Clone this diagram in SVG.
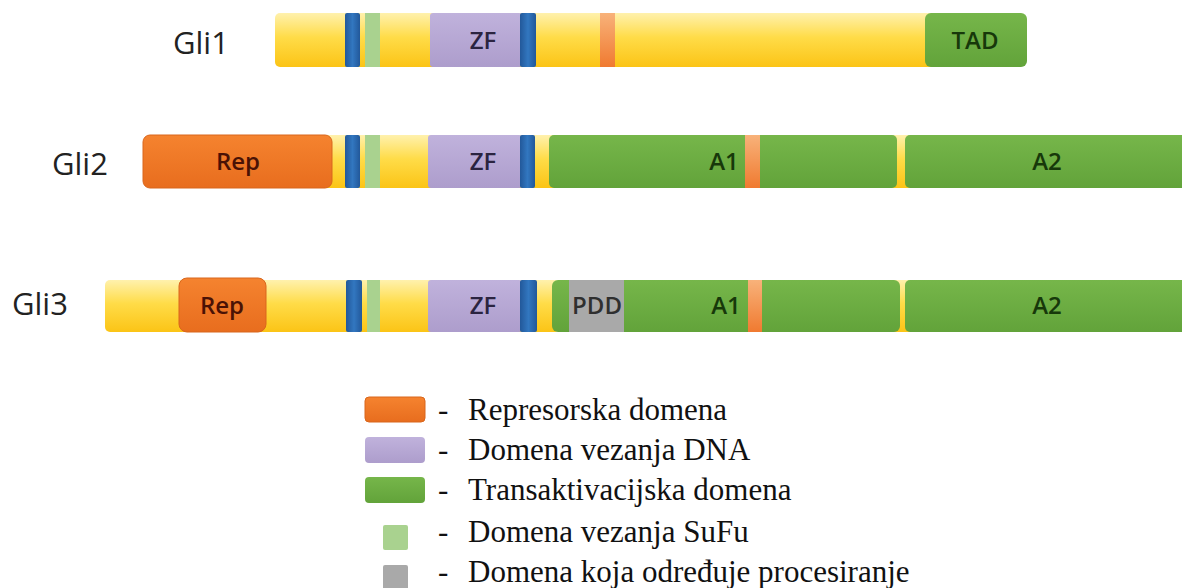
<svg xmlns="http://www.w3.org/2000/svg" width="1182" height="588" viewBox="0 0 1182 588">
<defs>
<linearGradient id="gY" x1="0" y1="0" x2="0" y2="1"><stop offset="0" stop-color="#fff1ad"/><stop offset="0.45" stop-color="#ffdc48"/><stop offset="1" stop-color="#fbc416"/></linearGradient>
<linearGradient id="gO" x1="0" y1="0" x2="0" y2="1"><stop offset="0" stop-color="#f5832f"/><stop offset="1" stop-color="#e86d1e"/></linearGradient>
<linearGradient id="gP" x1="0" y1="0" x2="0" y2="1"><stop offset="0" stop-color="#c0b2dc"/><stop offset="1" stop-color="#ad9dcc"/></linearGradient>
<linearGradient id="gG" x1="0" y1="0" x2="0" y2="1"><stop offset="0" stop-color="#76b64a"/><stop offset="1" stop-color="#62a33a"/></linearGradient>
<linearGradient id="gB" x1="0" y1="0" x2="1" y2="0"><stop offset="0" stop-color="#22589a"/><stop offset="0.5" stop-color="#3277c0"/><stop offset="1" stop-color="#22589a"/></linearGradient>
<linearGradient id="gS" x1="0" y1="0" x2="0" y2="1"><stop offset="0" stop-color="#f8b27a"/><stop offset="1" stop-color="#f07a30"/></linearGradient>
</defs>
<style>
.y{fill:url(#gY)}
.o{fill:url(#gO);stroke:#d9661c;stroke-width:1}
.p{fill:url(#gP)}
.g{fill:url(#gG)}
.b{fill:url(#gB)}
.lg{fill:#a9d28f}
.s{fill:url(#gS)}
.gr{fill:#a9a9a9}
.name{font-family:"Open Sans","Liberation Sans",sans-serif;font-size:31px;fill:#222}
.lbl{font-family:"Open Sans","Liberation Sans",sans-serif;font-size:24px;font-weight:600;text-anchor:middle}
.leg{font-family:"Liberation Serif","Times New Roman",serif;font-size:31px;fill:#111}
</style>
<rect width="1182" height="588" fill="#ffffff"/>

<g id="gli1">
<text class="name" x="173" y="54">Gli1</text>
<rect class="y" x="275" y="13" width="665" height="54" rx="5"/>
<rect class="b" x="345" y="13" width="15" height="54" rx="2"/>
<rect class="lg" x="365" y="13" width="15" height="54"/>
<rect class="p" x="430" y="13" width="92" height="54" rx="3"/>
<rect class="b" x="520" y="13" width="16" height="54" rx="2"/>
<rect class="s" x="600" y="13" width="15" height="54"/>
<rect class="g" x="925" y="13" width="102" height="54" rx="6"/>
<text class="lbl" x="483" y="49" fill="#2b2440">ZF</text>
<text class="lbl" x="975" y="49" fill="#17380a">TAD</text>
</g>

<g id="gli2">
<text class="name" x="52" y="175">Gli2</text>
<rect class="y" x="326" y="135" width="230" height="53"/>
<rect class="o" x="143" y="135" width="189" height="53" rx="7"/>
<rect class="b" x="345" y="135" width="15" height="53" rx="2"/>
<rect class="lg" x="365" y="135" width="15" height="53"/>
<rect class="p" x="428" y="135" width="94" height="53" rx="3"/>
<rect class="b" x="520" y="135" width="15" height="53" rx="2"/>
<rect class="y" x="890" y="135" width="20" height="53"/>
<rect class="g" x="549" y="135" width="348" height="53" rx="5"/>
<rect class="s" x="745" y="135" width="15" height="53"/>
<rect class="g" x="905" y="135" width="290" height="53" rx="5"/>
<text class="lbl" x="238" y="170" fill="#4a1205">Rep</text>
<text class="lbl" x="483" y="170" fill="#2b2440">ZF</text>
<text class="lbl" x="724" y="170" fill="#17380a">A1</text>
<text class="lbl" x="1047" y="170" fill="#17380a">A2</text>
</g>

<g id="gli3">
<text class="name" x="12" y="315">Gli3</text>
<rect class="y" x="105" y="280" width="455" height="52" rx="5"/>
<rect class="o" x="179" y="278" width="87" height="54" rx="8"/>
<rect class="b" x="346" y="280" width="16" height="52" rx="2"/>
<rect class="lg" x="367" y="280" width="13" height="52"/>
<rect class="p" x="428" y="280" width="94" height="52" rx="3"/>
<rect class="b" x="520" y="280" width="17" height="52" rx="2"/>
<rect class="y" x="893" y="280" width="18" height="52"/>
<rect class="g" x="552" y="280" width="348" height="52" rx="6"/>
<rect class="gr" x="569" y="280" width="55" height="52"/>
<rect class="s" x="748" y="280" width="14" height="52"/>
<rect class="g" x="905" y="280" width="290" height="52" rx="5"/>
<text class="lbl" x="222" y="314" fill="#4a1205">Rep</text>
<text class="lbl" x="483" y="314" fill="#2b2440">ZF</text>
<text class="lbl" x="597" y="314" fill="#2f2f2f" font-size="20">PDD</text>
<text class="lbl" x="726" y="314" fill="#17380a">A1</text>
<text class="lbl" x="1047" y="314" fill="#17380a">A2</text>
</g>

<g id="legend">
<rect class="o" x="365" y="397" width="60" height="25" rx="4"/>
<text class="leg" x="438" y="420">-</text>
<text class="leg" x="468" y="420">Represorska domena</text>
<rect class="p" x="365" y="437" width="60" height="26" rx="4"/>
<text class="leg" x="438" y="460">-</text>
<text class="leg" x="468" y="460">Domena vezanja DNA</text>
<rect class="g" x="365" y="477" width="60" height="26" rx="4"/>
<text class="leg" x="438" y="500">-</text>
<text class="leg" x="468" y="500">Transaktivacijska domena</text>
<rect class="lg" x="383" y="525" width="25" height="25" rx="2"/>
<text class="leg" x="438" y="542">-</text>
<text class="leg" x="468" y="542">Domena vezanja SuFu</text>
<rect class="gr" x="383" y="565" width="25" height="25" rx="2"/>
<text class="leg" x="438" y="582">-</text>
<text class="leg" x="468" y="582">Domena koja određuje procesiranje</text>
</g>
</svg>
